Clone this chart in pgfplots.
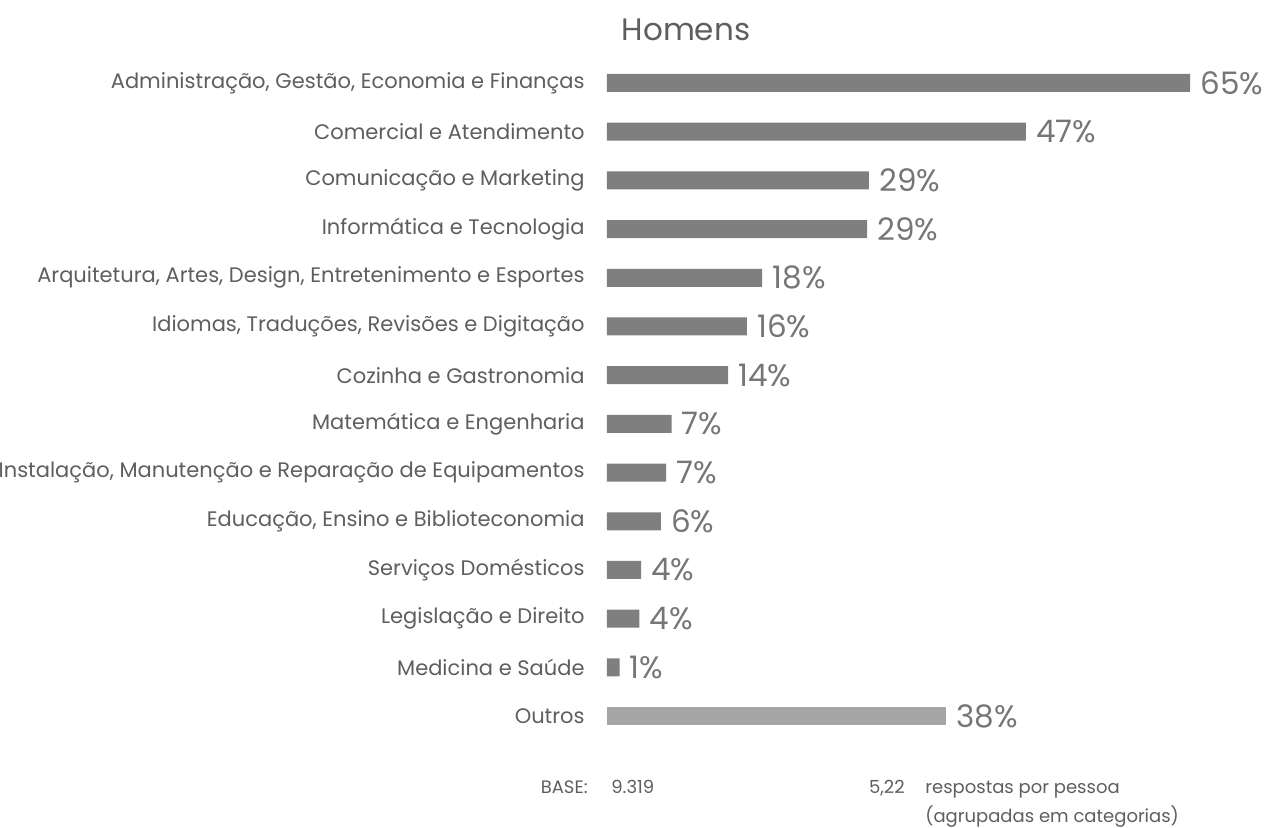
\documentclass[border=0pt]{standalone}
\usepackage{fontspec}
\setmainfont{Poppins}
\usepackage{pgfplots}
\pgfplotsset{compat=1.18}
\definecolor{barc}{HTML}{7F7F7F}
\definecolor{barl}{HTML}{A6A6A6}
\definecolor{txt}{HTML}{5E5E5E}
\definecolor{pct}{HTML}{767676}
\begin{document}
\begin{tikzpicture}
\useasboundingbox (0,0) rectangle (632.5pt,413.5pt);
\begin{axis}[
  at={(303.5pt,43.3pt)}, anchor=south west,
  scale only axis, width=313.95pt, height=340.9pt,
  xmin=0, xmax=70, ymin=-0.5, ymax=13.5, y dir=reverse,
  xbar, bar width=9pt, bar shift=0pt,
  axis line style={draw=none}, major tick length=0pt,
  xtick=\empty, ytick={0,...,13},
  yticklabels={{Administração, Gestão, Economia e Finanças},{Comercial e Atendimento},{Comunicação e Marketing},{Informática e Tecnologia},{Arquitetura, Artes, Design, Entretenimento e Esportes},{Idiomas, Traduções, Revisões e Digitação},{Cozinha e Gastronomia},{Matemática e Engenharia},{Instalação, Manutenção e Reparação de Equipamentos},{Educação, Ensino e Biblioteconomia},{Serviços Domésticos},{Legislação e Direito},{Medicina e Saúde},{Outros}},
  yticklabel style={anchor=east, inner sep=0pt, xshift=-11pt, font=\fontsize{10.5}{10.5}\selectfont, text=txt},
  nodes near coords, point meta=explicit symbolic,
  nodes near coords style={anchor=west, inner sep=0pt, xshift=5pt, font=\fontsize{15.5}{15.5}\selectfont, text=pct},
  clip=false,
]
\addplot[fill=barc, draw=none] coordinates {
 (65,0) [65\%]
 (46.7,1) [47\%]
 (29.2,2) [29\%]
 (29.0,3) [29\%]
 (17.3,4) [18\%]
 (15.6,5) [16\%]
 (13.5,6) [14\%]
 (7.2,7) [7\%]
 (6.6,8) [7\%]
 (6.0,9) [6\%]
 (3.8,10) [4\%]
 (3.6,11) [4\%]
 (1.4,12) [1\%]
};
\addplot[fill=barl, draw=none] coordinates {
 (37.8,13) [38\%]
};
\end{axis}
\node[anchor=center, text=txt, font=\fontsize{15.5}{15.5}\selectfont] at (343pt,398.5pt) {Homens};
\begin{scope}[every node/.style={inner sep=0pt, text=txt, font=\fontsize{9}{9}\selectfont}]
\node[anchor=base east] at (294pt,17pt) {BASE:};
\node[anchor=base west] at (305.5pt,17pt) {9.319};
\node[anchor=base east] at (452.5pt,17pt) {5,22};
\node[anchor=base west] at (462.5pt,17pt) {respostas por pessoa};
\node[anchor=base west] at (462.5pt,2.5pt) {(agrupadas em categorias)};
\end{scope}
\end{tikzpicture}
\end{document}
